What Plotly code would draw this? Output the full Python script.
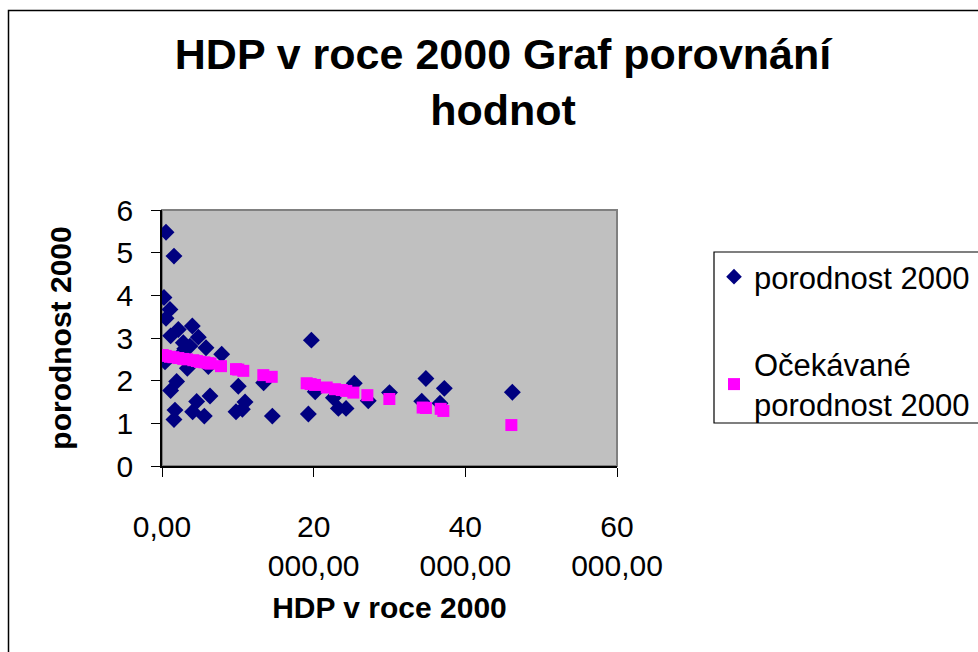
import plotly.graph_objects as go

# --- data ---
hdp_actual = [530, 1580, 260, 1050, 530, 4000, 2150, 1140, 4790, 2810, 3690, 5800, 7870,
              19700, 400, 3340, 6110, 1930, 1140, 10060, 13400, 6330, 4570, 10950, 1710,
              4040, 9760, 1580, 5580, 10600, 14550, 19300, 20200, 25360, 23260, 24270,
              22600, 27200, 30000, 34800, 37230, 34250, 36660, 46200, 2500, 3000]
porodnost = [5.48, 4.92, 3.95, 3.67, 3.46, 3.28, 3.20, 3.05, 3.02, 2.89, 2.81, 2.77, 2.62,
             2.95, 2.44, 2.29, 2.33, 1.98, 1.77, 1.87, 1.95, 1.64, 1.51, 1.50, 1.31,
             1.27, 1.27, 1.09, 1.17, 1.33, 1.17, 1.22, 1.74, 1.94, 1.35, 1.35,
             1.60, 1.53, 1.72, 2.05, 1.82, 1.52, 1.47, 1.73, 2.62, 2.75]

hdp_expected = [100, 500, 1050, 1500, 2150, 2800, 3300, 4130, 4600, 5000, 5600, 6110, 6400,
                7780, 9760, 10060, 10720, 13360, 14470, 19080, 19600, 20180, 21720, 22810,
                23700, 24300, 25230, 27080, 29980, 34370, 34800, 36750, 37100, 46070]
porodnost_expected = [2.60, 2.58, 2.56, 2.55, 2.53, 2.51, 2.50, 2.48, 2.46, 2.44, 2.43, 2.41, 2.40,
                      2.34, 2.27, 2.26, 2.23, 2.13, 2.09, 1.94, 1.92, 1.90, 1.84, 1.80,
                      1.78, 1.76, 1.72, 1.66, 1.57, 1.37, 1.36, 1.34, 1.29, 0.96]

x_tickvals = [0, 20000, 40000, 60000]
x_ticktext = ["0,00", "20<br>000,00", "40<br>000,00", "60<br>000,00"]
y_tickvals = [0, 1, 2, 3, 4, 5, 6]

FONT = "Liberation Sans, Arial, sans-serif"

fig = go.Figure()
fig.add_trace(go.Scatter(
    x=hdp_actual, y=porodnost, mode="markers", name="porodnost 2000",
    legendgroup="a",
    marker=dict(symbol="diamond", size=13, color="#000080", line=dict(width=0)),
))
fig.add_trace(go.Scatter(
    x=hdp_expected, y=porodnost_expected, mode="markers", name="Očekávané<br>porodnost 2000",
    legendgroup="b",
    marker=dict(symbol="square", size=12, color="#FF00FF", line=dict(width=0)),
))

# body margin is removed in the page, so figure coords = page coords
W, H = 978, 652
L, R, T, B = 162, 617, 210, 466
pw, ph = R - L, B - T


def px2paper_x(p):
    return (p - L) / pw


def px2paper_y(p):
    return (B - p) / ph


fig.update_layout(
    width=W, height=H,
    margin=dict(l=L, r=W - R, t=T, b=H - B, autoexpand=False),
    paper_bgcolor="white",
    plot_bgcolor="#C0C0C0",
    font=dict(family=FONT, color="black", size=30),
    title=dict(
        text="<b>HDP v roce 2000 Graf porovnání<br>hodnot</b>",
        font=dict(size=43, family=FONT, color="black"),
        x=503 / W, xref="container", xanchor="center",
        y=1 - 69 / H, yref="container", yanchor="top",
    ),
    xaxis=dict(
        range=[0, 60000], tickvals=x_tickvals, ticktext=x_ticktext,
        showgrid=False, zeroline=False,
        showline=True, linecolor="black", linewidth=1.5,
        ticks="outside", ticklen=9, tickcolor="black", tickwidth=1,
        ticklabelstandoff=24,
        tickfont=dict(size=30),
        title=dict(text="<b>HDP v roce 2000</b>", font=dict(size=30), standoff=16),
    ),
    yaxis=dict(
        range=[0, 6], tickvals=y_tickvals,
        showgrid=False, zeroline=False,
        showline=True, linecolor="black", linewidth=1.5,
        ticks="outside", ticklen=9, tickcolor="black", tickwidth=1,
        ticklabelstandoff=12,
        tickfont=dict(size=30),
        title=dict(text="<b>porodnost 2000</b>", font=dict(size=30), standoff=36),
    ),
    legend=dict(
        x=px2paper_x(714), xanchor="left",
        y=px2paper_y(250), yanchor="top",
        bgcolor="rgba(0,0,0,0)", borderwidth=0,
        font=dict(size=31),
        traceorder="grouped", tracegroupgap=44,
        itemsizing="constant",
    ),
    showlegend=True,
    shapes=[
        # plot area border (gray)
        dict(type="rect", xref="paper", yref="paper", x0=0, y0=0, x1=1, y1=1,
             line=dict(color="#808080", width=2), layer="below"),
        # legend box
        dict(type="rect", xref="paper", yref="paper",
             x0=px2paper_x(714), y0=px2paper_y(423), x1=px2paper_x(1100), y1=px2paper_y(252),
             line=dict(color="black", width=1.2), fillcolor="white", layer="below"),
        # chart outer border
        dict(type="rect", xref="paper", yref="paper",
             x0=px2paper_x(8.5), y0=px2paper_y(760), x1=px2paper_x(1100), y1=px2paper_y(10.5),
             line=dict(color="black", width=1.5), fillcolor="rgba(0,0,0,0)", layer="above"),
    ],
)

fig.write_html(
    "out.html",
    config={"displayModeBar": False},
    post_script="document.body.style.margin='0';document.body.style.overflow='hidden';",
)
